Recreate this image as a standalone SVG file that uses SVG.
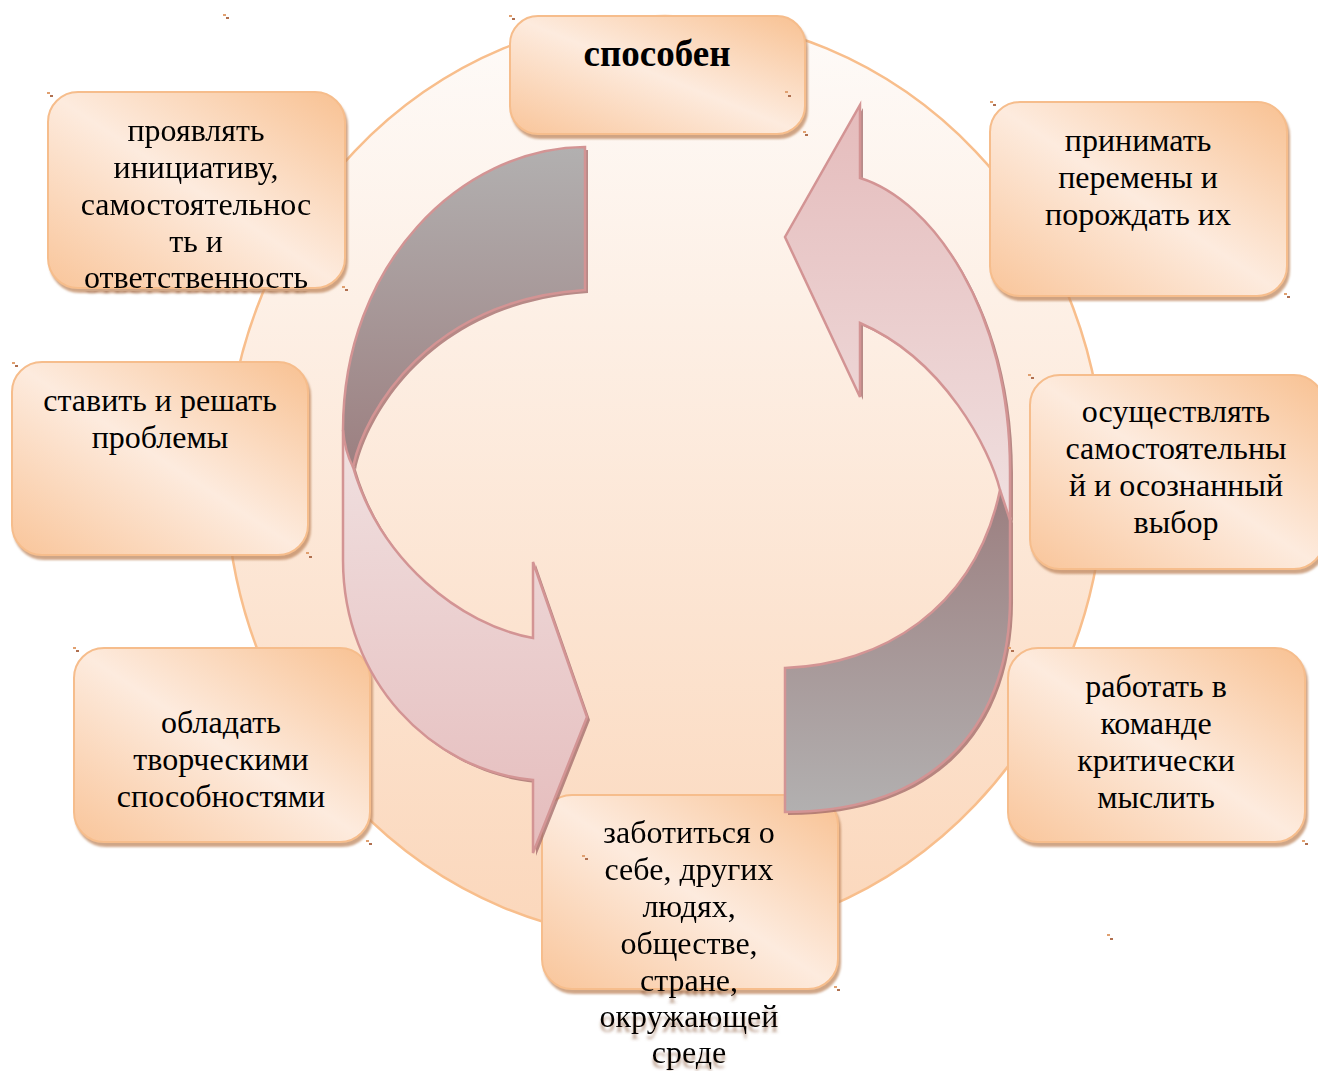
<svg xmlns="http://www.w3.org/2000/svg" width="1318" height="1071" viewBox="0 0 1318 1071">
<defs>
<linearGradient id="gEll" x1="0" y1="0" x2="0" y2="1">
<stop offset="0" stop-color="#fefbf9"/>
<stop offset="1" stop-color="#fbd7bb"/>
</linearGradient>
<linearGradient id="gBox" x1="1" y1="0" x2="0" y2="1">
<stop offset="0" stop-color="#f8c192"/>
<stop offset="0.5" stop-color="#fdebde"/>
<stop offset="1" stop-color="#f9c59a"/>
</linearGradient>
<linearGradient id="gGrayL" gradientUnits="userSpaceOnUse" x1="0" y1="147" x2="0" y2="470">
<stop offset="0" stop-color="#b2b0b0"/>
<stop offset="1" stop-color="#9c7f80"/>
</linearGradient>
<linearGradient id="gGrayR" gradientUnits="userSpaceOnUse" x1="0" y1="812" x2="0" y2="490">
<stop offset="0" stop-color="#b2b0b0"/>
<stop offset="1" stop-color="#9c7f80"/>
</linearGradient>
<linearGradient id="gPinkL" gradientUnits="userSpaceOnUse" x1="0" y1="430" x2="0" y2="855">
<stop offset="0" stop-color="#f0e0e0"/>
<stop offset="1" stop-color="#e5bcbc"/>
</linearGradient>
<linearGradient id="gPinkR" gradientUnits="userSpaceOnUse" x1="0" y1="530" x2="0" y2="105">
<stop offset="0" stop-color="#f0e0e0"/>
<stop offset="1" stop-color="#e5bcbc"/>
</linearGradient>
<filter id="fBox" x="-5%" y="-5%" width="112%" height="115%">
<feDropShadow dx="2" dy="4" stdDeviation="0.8" flood-color="#c08860" flood-opacity="0.75"/>
</filter>
<filter id="fArr" x="-5%" y="-5%" width="112%" height="112%">
<feDropShadow dx="3" dy="3" stdDeviation="0.7" flood-color="#a06868" flood-opacity="0.75"/>
</filter>
<filter id="fShA" filterUnits="userSpaceOnUse" x="0" y="0" width="1318" height="1071">
<feOffset in="SourceAlpha" dy="5" result="o"/>
<feGaussianBlur in="o" stdDeviation="1.4" result="b"/>
<feFlood flood-color="#8b5a3c" flood-opacity="0.6" x="0" y="291" width="1318" height="200" result="f"/>
<feComposite in="f" in2="b" operator="in" result="s"/>
<feMerge><feMergeNode in="s"/><feMergeNode in="SourceGraphic"/></feMerge>
</filter>
<filter id="fShB" filterUnits="userSpaceOnUse" x="0" y="0" width="1318" height="1071">
<feOffset in="SourceAlpha" dy="5" result="o"/>
<feGaussianBlur in="o" stdDeviation="1.4" result="b"/>
<feFlood flood-color="#8b5a3c" flood-opacity="0.6" x="0" y="991" width="1318" height="100" result="f"/>
<feComposite in="f" in2="b" operator="in" result="s"/>
<feMerge><feMergeNode in="s"/><feMergeNode in="SourceGraphic"/></feMerge>
</filter>
</defs>
<style>
.box{fill:url(#gBox);stroke:#f6bd8c;stroke-width:2;filter:url(#fBox)}
.t{font-family:"Liberation Serif","Times New Roman",serif;font-size:32px;fill:#000;text-anchor:middle}
.title{font-family:"Liberation Serif","Times New Roman",serif;font-size:37px;font-weight:bold;fill:#000;text-anchor:middle}
.ao{fill:none;stroke:#d39494;stroke-width:2.5;stroke-linejoin:miter}
.mk{fill:#e0a070}
.mk2{fill:#b07050}
</style>

<rect width="1318" height="1071" fill="#ffffff"/>
<ellipse id="ring" cx="665" cy="478" rx="439" ry="462" fill="url(#gEll)" stroke="#f8be8c" stroke-width="2.5"/>

<g id="n1">
<rect class="box" x="510" y="16" width="295" height="118" rx="28"/>
<text class="title" x="657" y="66">способен</text>
</g>

<g id="n2">
<rect class="box" x="48" y="92" width="297" height="196" rx="30"/>
<text class="t" filter="url(#fShA)"><tspan x="196" y="141">проявлять</tspan><tspan x="196" y="178">инициативу,</tspan><tspan x="196" y="215">самостоятельнос</tspan><tspan x="196" y="252">ть и</tspan><tspan x="196" y="288">ответственность</tspan></text>
</g>

<g id="n3">
<rect class="box" x="990" y="102" width="297" height="194" rx="30"/>
<text class="t"><tspan x="1138" y="151">принимать</tspan><tspan x="1138" y="188">перемены и</tspan><tspan x="1138" y="225">порождать их</tspan></text>
</g>

<g id="n4">
<rect class="box" x="12" y="362" width="296" height="193" rx="30"/>
<text class="t"><tspan x="160" y="411">ставить и решать</tspan><tspan x="160" y="448">проблемы</tspan></text>
</g>

<g id="n5">
<rect class="box" x="1030" y="375" width="294" height="194" rx="30"/>
<text class="t"><tspan x="1176" y="422">осуществлять</tspan><tspan x="1176" y="459">самостоятельны</tspan><tspan x="1176" y="496">й и осознанный</tspan><tspan x="1176" y="533">выбор</tspan></text>
</g>

<g id="n6">
<rect class="box" x="74" y="648" width="296" height="194" rx="30"/>
<text class="t"><tspan x="221" y="733">обладать</tspan><tspan x="221" y="770">творческими</tspan><tspan x="221" y="807">способностями</tspan></text>
</g>

<g id="n7">
<rect class="box" x="1008" y="648" width="297" height="194" rx="30"/>
<text class="t"><tspan x="1156" y="697">работать в</tspan><tspan x="1156" y="734">команде</tspan><tspan x="1156" y="771">критически</tspan><tspan x="1156" y="808">мыслить</tspan></text>
</g>

<g id="n8">
<rect class="box" x="542" y="795" width="296" height="194" rx="30"/>
<text class="t" filter="url(#fShB)"><tspan x="689" y="843">заботиться о</tspan><tspan x="689" y="880">себе, других</tspan><tspan x="689" y="917">людях,</tspan><tspan x="689" y="954">обществе,</tspan><tspan x="689" y="991">стране,</tspan><tspan x="689" y="1027">окружающей</tspan><tspan x="689" y="1063">среде</tspan></text>
</g>

<g id="connectors">
<g id="arrow-left" filter="url(#fArr)">
<path fill="url(#gPinkL)" d="M343,430 L343,560 C343,680 430,770 533,780 L533,853 L587,717 L533,562 L533,638 C460,625 380,560 353,467 Q345,452 343,430 Z"/>
<path fill="url(#gGrayL)" d="M585,147 C460,148 343,265 343,430 Q345,452 353,467 C365,410 430,300 585,290 Z"/>
</g>
<path class="ao" d="M585,147 C460,148 343,265 343,430 L343,560 C343,680 430,770 533,780 L533,853 L587,717 L533,562 L533,638 C460,625 380,560 353,467 C365,410 430,300 585,290 Z"/>
<path class="ao" d="M343,430 Q345,452 353,467"/>
<g id="arrow-right" filter="url(#fArr)">
<path fill="url(#gPinkR)" d="M860,178 C932,200 1010,310 1010,470 L1010,520 Q1004,502 1000,490 C990,450 945,360 860,323 L860,397 L785,237 L860,105 Z"/>
<path fill="url(#gGrayR)" d="M1000,490 Q1004,502 1010,520 L1010,593 C1012,720 940,812 785,812 L785,668 C880,665 975,610 1000,490 Z"/>
</g>
<path class="ao" d="M860,178 C932,200 1010,310 1010,470 L1010,593 C1012,720 940,812 785,812 L785,668 C880,665 975,610 1000,490 C990,450 945,360 860,323 L860,397 L785,237 L860,105 Z"/>
<path class="ao" d="M1000,490 Q1004,502 1010,520"/>
</g>

<g id="marks">
<rect class="mk" x="223" y="14" width="3" height="2"/><rect class="mk2" x="226" y="17" width="3" height="2"/>
<rect class="mk" x="509" y="15" width="3" height="2"/><rect class="mk2" x="512" y="18" width="3" height="2"/>
<rect class="mk" x="785" y="91" width="3" height="2"/><rect class="mk2" x="788" y="95" width="3" height="2"/>
<rect class="mk" x="803" y="131" width="3" height="2"/><rect class="mk2" x="805" y="134" width="3" height="2"/>
<rect class="mk" x="47" y="92" width="3" height="2"/><rect class="mk2" x="50" y="95" width="3" height="2"/>
<rect class="mk" x="342" y="286" width="3" height="2"/><rect class="mk2" x="345" y="289" width="3" height="2"/>
<rect class="mk" x="12" y="362" width="3" height="2"/><rect class="mk2" x="15" y="365" width="3" height="2"/>
<rect class="mk" x="306" y="552" width="3" height="2"/><rect class="mk2" x="309" y="556" width="3" height="2"/>
<rect class="mk" x="73" y="647" width="3" height="2"/><rect class="mk2" x="76" y="650" width="3" height="2"/>
<rect class="mk" x="366" y="840" width="3" height="2"/><rect class="mk2" x="369" y="843" width="3" height="2"/>
<rect class="mk" x="582" y="855" width="3" height="2"/><rect class="mk2" x="585" y="858" width="3" height="2"/>
<rect class="mk" x="834" y="986" width="3" height="2"/><rect class="mk2" x="837" y="989" width="3" height="2"/>
<rect class="mk" x="1107" y="934" width="3" height="2"/><rect class="mk2" x="1110" y="938" width="3" height="2"/>
<rect class="mk" x="1008" y="647" width="3" height="2"/><rect class="mk2" x="1011" y="650" width="3" height="2"/>
<rect class="mk" x="1302" y="840" width="3" height="2"/><rect class="mk2" x="1305" y="843" width="3" height="2"/>
<rect class="mk" x="990" y="101" width="3" height="2"/><rect class="mk2" x="993" y="104" width="3" height="2"/>
<rect class="mk" x="1284" y="293" width="3" height="2"/><rect class="mk2" x="1287" y="296" width="3" height="2"/>
<rect class="mk" x="1028" y="374" width="3" height="2"/><rect class="mk2" x="1031" y="377" width="3" height="2"/>
</g>
</svg>
